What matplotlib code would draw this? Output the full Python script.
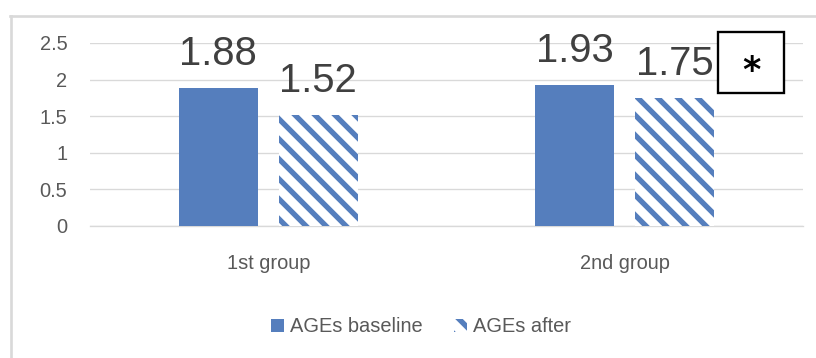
import matplotlib
matplotlib.use("Agg")
import matplotlib.pyplot as plt
from matplotlib.patches import Rectangle
from matplotlib.lines import Line2D
import numpy as np

categories = ["1st group", "2nd group"]
baseline = [1.88, 1.93]
after = [1.52, 1.75]
series_names = ["AGEs baseline", "AGEs after"]
yticks = [0, 0.5, 1, 1.5, 2, 2.5]
ytick_labels = ["0", "0.5", "1", "1.5", "2", "2.5"]

BLUE = "#557EBD"
GRID = "#d9d9d9"
TXT = "#595959"

plt.rcParams["font.family"] = ["Liberation Sans", "DejaVu Sans"]
plt.rcParams["hatch.linewidth"] = 3.2

W, H, DPI = 816, 358, 120
fig = plt.figure(figsize=(W / DPI, H / DPI), dpi=DPI)
# axes box in pixels: x 90..803, y 43..226
ax = fig.add_axes([90 / W, 1 - 226 / H, (803 - 90) / W, (226 - 43) / H])

x = np.arange(len(categories))
bw, off = 0.222, 0.14
b1 = ax.bar(x - off, baseline, bw, color=BLUE, linewidth=0, zorder=3,
            label=series_names[0])
b2 = ax.bar(x + off, after, bw, facecolor="white", edgecolor=BLUE,
            hatch="\\\\", linewidth=0, zorder=3, label=series_names[1])

for bars, vals in ((b1, baseline), (b2, after)):
    for r, v in zip(bars, vals):
        ax.annotate(f"{v:.2f}", (r.get_x() + r.get_width() / 2, v),
                    xytext=(0, 13.8), textcoords="offset points",
                    ha="center", va="baseline", fontsize=24, color="#404040")

ax.set_xlim(-0.5, 1.5)
ax.set_ylim(0, 2.5)
ax.set_yticks(yticks, ytick_labels)
ax.set_xticks(x, categories)
ax.tick_params(axis="y", length=0, pad=13.5, labelsize=12, labelcolor=TXT)
ax.tick_params(axis="x", length=0, pad=17, labelsize=12, labelcolor=TXT)
ax.grid(axis="y", color=GRID, linewidth=0.8, zorder=0)
for s in ("left", "right", "top"):
    ax.spines[s].set_visible(False)
ax.spines["bottom"].set_color(GRID)
ax.spines["bottom"].set_linewidth(0.8)

leg = fig.legend(handles=[b1, b2], loc="center",
                 bbox_to_anchor=(421 / W, 1 - 327 / H), ncol=2, frameon=False,
                 fontsize=12, handlelength=0.65, handleheight=0.65,
                 handletextpad=0.3, columnspacing=1.6, labelcolor=TXT)

# significance box with asterisk
fig.add_artist(Rectangle((718 / W, 1 - 93 / H), 66 / W, 61 / H,
                         transform=fig.transFigure, facecolor="white",
                         edgecolor="black", linewidth=1.4, zorder=5))
fig.text(751 / W, 1 - 81 / H, "*", ha="center", va="baseline", fontsize=21,
         fontweight="bold", color="black", family="DejaVu Sans", zorder=6)

# chart-area border (top and left edges visible)
fig.add_artist(Line2D([10 / W, 1], [1 - 16 / H, 1 - 16 / H],
                      transform=fig.transFigure, color=GRID, linewidth=1.6))
fig.add_artist(Line2D([10.5 / W, 10.5 / W], [1 - 16 / H, 0],
                      transform=fig.transFigure, color=GRID, linewidth=1.6))

fig.savefig("out.png", dpi=DPI)
